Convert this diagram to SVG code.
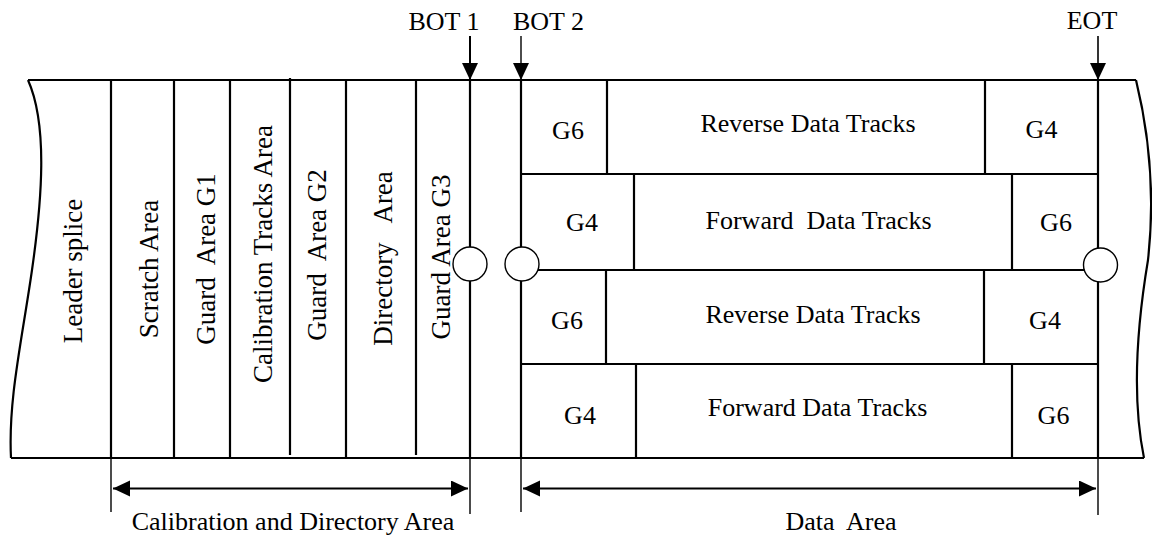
<svg xmlns="http://www.w3.org/2000/svg" width="1152" height="535" viewBox="0 0 1152 535">
<defs>
<style>
.ln{stroke:#000;stroke-width:2.2;fill:none}
.thin{stroke:#000;stroke-width:1.4;fill:none}
.t{font-family:"Liberation Serif","Times New Roman",serif;font-size:26px;fill:#000;text-anchor:middle;white-space:pre}
.tv{font-family:"Liberation Serif","Times New Roman",serif;font-size:27px;fill:#000;text-anchor:middle;white-space:pre}
.mk{fill:#000;stroke:none}
.circ{fill:#fff;stroke:#000;stroke-width:1.4}
</style>
<marker id="ah" markerUnits="userSpaceOnUse" markerWidth="18" markerHeight="17" refX="17" refY="8" orient="auto-start-reverse">
<path class="mk" d="M0,0 L17,8 L0,16 Z"/>
</marker>
</defs>
<rect width="1152" height="535" fill="#fff"/>

<g id="tape-outline">
<path class="ln" d="M28,80 H1136"/>
<path class="ln" d="M11,458 H1144"/>
<path class="ln" d="M28,80 C48,125 42,200 32,270 S8,400 11,458"/>
<path class="ln" d="M1136,80 Q1158,170 1148,260 Q1128,380 1144,458"/>
</g>

<g id="leader-splice">
<text class="tv" xml:space="preserve" transform="translate(82,271) rotate(-90)">Leader splice</text>
</g>
<g id="scratch-area">
<path class="ln" d="M111,80 V458"/>
<text class="tv" xml:space="preserve" transform="translate(158,269) rotate(-90)">Scratch Area</text>
</g>
<g id="guard-area-g1">
<path class="ln" d="M174,80 V458"/>
<text class="tv" xml:space="preserve" transform="translate(215,259) rotate(-90)">Guard  Area G1</text>
</g>
<g id="calibration-tracks-area">
<path class="ln" d="M230,80 V458"/>
<text class="tv" xml:space="preserve" transform="translate(271.5,254) rotate(-90)">Calibration Tracks Area</text>
</g>
<g id="guard-area-g2">
<path class="ln" d="M290,78 V455"/>
<text class="tv" xml:space="preserve" transform="translate(326,255) rotate(-90)">Guard  Area G2</text>
</g>
<g id="directory-area">
<path class="ln" d="M346,80 V458"/>
<text class="tv" xml:space="preserve" transform="translate(391.5,258.5) rotate(-90)">Directory   Area</text>
</g>
<g id="guard-area-g3">
<path class="ln" d="M416,80 V455"/>
<text class="tv" xml:space="preserve" transform="translate(450,257) rotate(-90)">Guard Area G3</text>
</g>

<g id="row1-reverse">
<path class="ln" d="M521,174 H1098 M607,80 V174 M985,80 V174"/>
<text class="t" x="568" y="139">G6</text>
<text class="t" xml:space="preserve" x="808" y="131.5">Reverse Data Tracks</text>
<text class="t" x="1041.5" y="138">G4</text>
</g>
<g id="row2-forward">
<path class="ln" d="M521,270 H1098 M634,174 V270 M1012,174 V270"/>
<text class="t" x="582" y="231">G4</text>
<text class="t" xml:space="preserve" x="818.5" y="228.5">Forward  Data Tracks</text>
<text class="t" x="1056" y="231">G6</text>
</g>
<g id="row3-reverse">
<path class="ln" d="M521,364 H1098 M606,270 V364 M984,270 V364"/>
<text class="t" x="567" y="329">G6</text>
<text class="t" xml:space="preserve" x="813" y="322.5">Reverse Data Tracks</text>
<text class="t" x="1045" y="329">G4</text>
</g>
<g id="row4-forward">
<path class="ln" d="M636,364 V458 M1012,364 V458"/>
<text class="t" x="580" y="424">G4</text>
<text class="t" xml:space="preserve" x="817.5" y="416">Forward Data Tracks</text>
<text class="t" x="1053.5" y="424">G6</text>
</g>

<g id="connectors">
<path class="ln" d="M470,80 V458"/>
<path class="ln" d="M521,80 V458"/>
<path class="ln" d="M1098,80 V458"/>
<path class="thin" d="M111,458 V512 M470,458 V514 M521,458 V512 M1098,458 V515"/>
<path style="stroke:#000;stroke-width:2;fill:none" marker-end="url(#ah)" d="M470,36 V80"/>
<path class="thin" marker-end="url(#ah)" d="M521,36 V80"/>
<path style="stroke:#000;stroke-width:1.6;fill:none" marker-end="url(#ah)" d="M1098,36 V80"/>
<path class="thin" style="stroke-width:2" marker-start="url(#ah)" marker-end="url(#ah)" d="M113,488.5 H468"/>
<path class="thin" style="stroke-width:2" marker-start="url(#ah)" marker-end="url(#ah)" d="M523,488.5 H1096"/>
</g>

<g id="bot1">
<circle class="circ" cx="470" cy="264" r="17"/>
<text class="t" x="444" y="30">BOT 1</text>
</g>
<g id="bot2">
<circle class="circ" cx="522" cy="264" r="17"/>
<text class="t" x="548.5" y="30">BOT 2</text>
</g>
<g id="eot">
<circle class="circ" cx="1100.5" cy="265" r="17"/>
<text class="t" x="1092" y="28.5">EOT</text>
</g>

<g id="labels">
<text class="t" x="293" y="530">Calibration and Directory Area</text>
<text class="t" xml:space="preserve" x="841" y="530">Data  Area</text>
</g>
</svg>
